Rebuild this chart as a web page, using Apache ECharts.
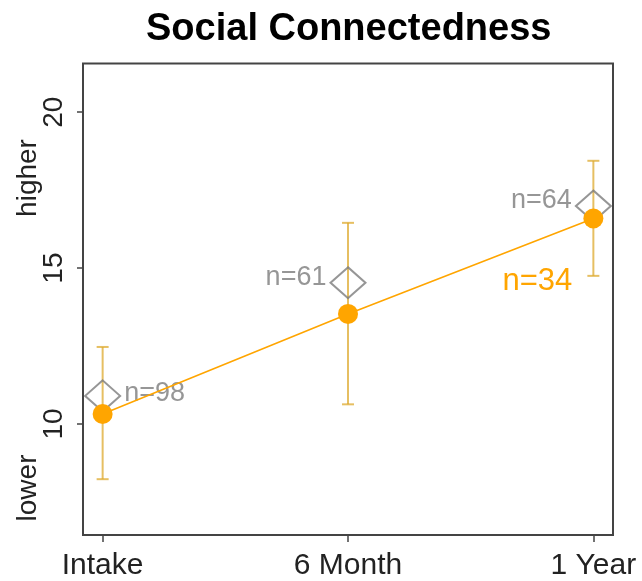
<!DOCTYPE html>
<html>
<head>
<meta charset="utf-8">
<script src="https://cdn.jsdelivr.net/npm/echarts@6/dist/echarts.min.js"></script>
<style>
  html, body { margin: 0; padding: 0; background: #fff; }
  #chart { width: 642px; height: 581px; }
</style>
</head>
<body>
<div id="chart"></div>
<script>
// Time points and their axis positions
const timepoints = ['Intake', '6 Month', '1 Year'];
const positions = [1, 2, 3];

// Tracked group: means with lower/upper error limits
const groupMean = [10.32, 13.53, 16.59];
const groupLow = [8.23, 10.63, 14.75];
const groupHigh = [12.47, 16.45, 18.44];
const groupN = [34];

// Full sample means (diamonds) and their sizes
const sampleMean = [10.90, 14.53, 16.99];
const sampleN = [98, 61, 64];

// Y axis ticks
const yTicks = [10, 15, 20];

const FONT = 'Liberation Sans, Arial, sans-serif';
const ORANGE = '#FFA500';
const GREY = '#7c7c7c';

const chart = echarts.init(document.getElementById('chart'), null, { renderer: 'canvas' });

const lineData = positions.map((x, i) => {
  const item = { value: [x, groupMean[i]] };
  if (i === positions.length - 1) {
    item.label = {
      show: true,
      formatter: 'n=' + groupN[0],
      position: 'bottom',
      offset: [-56, 32],
      color: ORANGE,
      fontSize: 31,
      fontFamily: FONT
    };
  }
  return item;
});

const diamondData = positions.map((x, i) => ({
  value: [x, sampleMean[i]],
  n: sampleN[i],
  label: {
    position: i === 0 ? 'right' : 'left',
    offset: i === 0 ? [0, -2] : [0, -5]
  }
}));

const errData = positions.map((x, i) => [x, groupLow[i], groupHigh[i]]);

chart.setOption({
  animation: false,
  backgroundColor: '#fff',
  title: {
    text: 'Social Connectedness',
    left: 141,
    top: 6,
    textStyle: { fontFamily: FONT, fontSize: 38, fontWeight: 'bold', color: '#000' }
  },
  grid: {
    left: 83, right: 29, top: 63.5, bottom: 45.5,
    show: true, borderColor: '#444', borderWidth: 2, backgroundColor: 'transparent'
  },
  xAxis: {
    type: 'value',
    min: 0.92, max: 3.08,
    axisLine: { show: false },
    splitLine: { show: false },
    axisTick: { show: true, customValues: positions, length: 7, lineStyle: { color: '#444', width: 1.5 } },
    axisLabel: {
      customValues: positions,
      formatter: v => timepoints[positions.indexOf(v)] || '',
      fontFamily: FONT, fontSize: 30, color: '#222', margin: 16
    }
  },
  yAxis: {
    type: 'value',
    min: 6.44, max: 21.56,
    axisLine: { show: false },
    splitLine: { show: false },
    axisTick: { show: true, customValues: yTicks, length: 6, lineStyle: { color: '#444', width: 1.5 } },
    axisLabel: {
      customValues: yTicks,
      rotate: 90,
      fontFamily: FONT, fontSize: 28, color: '#222', margin: 15
    }
  },
  graphic: [
    {
      type: 'text', x: 28, y: 178, rotation: Math.PI / 2,
      style: { text: 'higher', fontFamily: FONT, fontSize: 28, fill: '#222', align: 'center', verticalAlign: 'middle' }
    },
    {
      type: 'text', x: 28, y: 488, rotation: Math.PI / 2,
      style: { text: 'lower', fontFamily: FONT, fontSize: 28, fill: '#222', align: 'center', verticalAlign: 'middle' }
    }
  ],
  series: [
    {
      type: 'custom',
      name: 'error',
      z: 1,
      data: errData,
      renderItem: (params, api) => {
        const x = api.value(0);
        const lo = api.coord([x, api.value(1)]);
        const hi = api.coord([x, api.value(2)]);
        const cap = 6;
        const style = { stroke: 'rgba(222,170,45,0.75)', lineWidth: 2 };
        return {
          type: 'group',
          children: [
            { type: 'line', shape: { x1: lo[0], y1: lo[1], x2: hi[0], y2: hi[1] }, style },
            { type: 'line', shape: { x1: lo[0] - cap, y1: lo[1], x2: lo[0] + cap, y2: lo[1] }, style },
            { type: 'line', shape: { x1: hi[0] - cap, y1: hi[1], x2: hi[0] + cap, y2: hi[1] }, style }
          ]
        };
      }
    },
    {
      type: 'scatter',
      name: 'sample',
      z: 2,
      symbol: 'diamond',
      symbolSize: [35, 31],
      itemStyle: { color: 'rgba(0,0,0,0)', borderColor: GREY, borderWidth: 2 },
      label: {
        show: true,
        formatter: p => 'n=' + p.data.n,
        color: GREY,
        fontSize: 27,
        fontFamily: FONT,
        distance: 3
      },
      data: diamondData
    },
    {
      type: 'line',
      name: 'group',
      z: 3,
      symbol: 'circle',
      symbolSize: 20,
      showSymbol: true,
      itemStyle: { color: ORANGE },
      lineStyle: { color: ORANGE, width: 1.6 },
      label: { show: false },
      data: lineData
    }
  ]
});
</script>
</body>
</html>
